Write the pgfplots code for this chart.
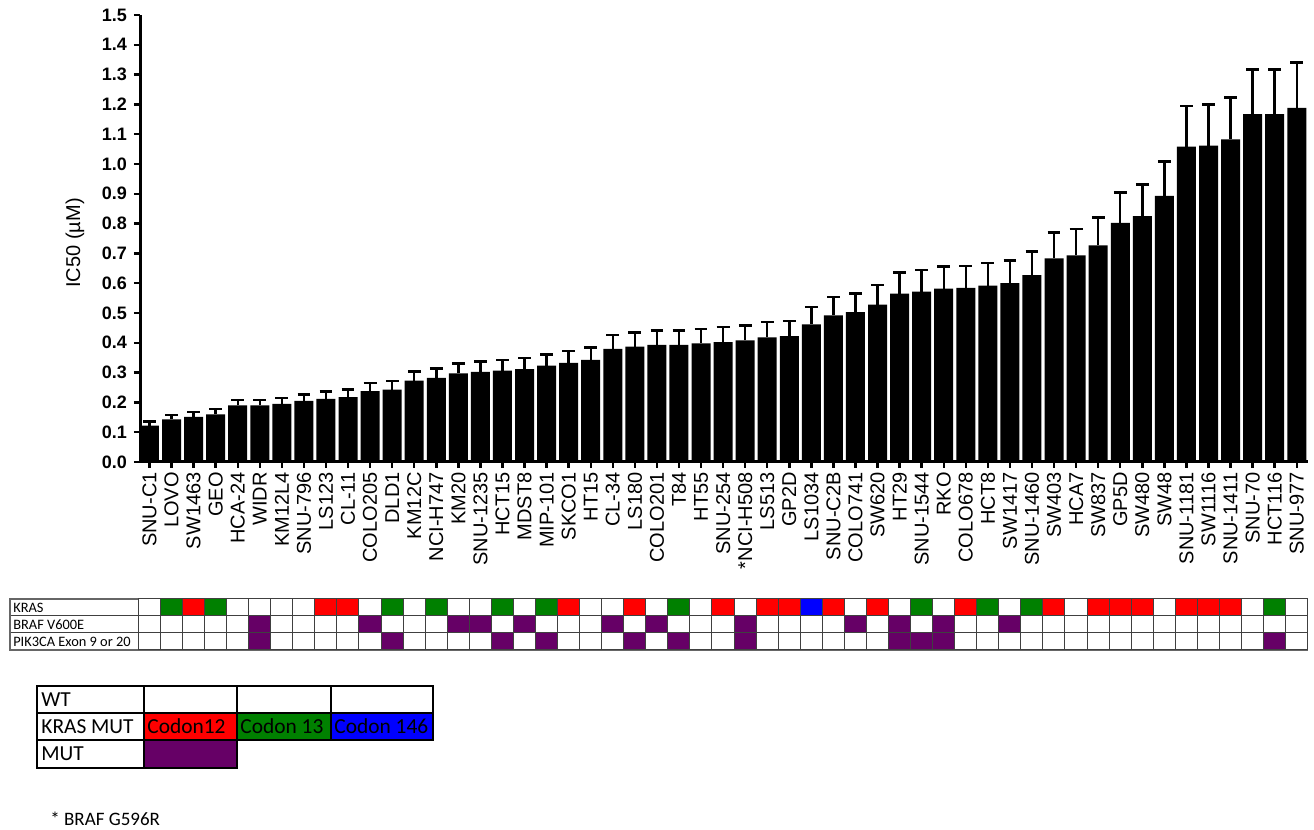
\documentclass[border=0pt]{standalone}
\usepackage{pgfplots}
\pgfplotsset{compat=1.18}
\usepackage{pgfplotstable}
\usepackage{fontspec}
\setmainfont{Liberation Sans}
\newfontfamily\carlito{Carlito}
\definecolor{kred}{RGB}{255,0,0}
\definecolor{kgreen}{RGB}{0,128,0}
\definecolor{kblue}{RGB}{0,0,255}
\definecolor{mpurple}{RGB}{102,0,102}
\pgfdeclareplotmark{cell}{\pgfpathrectangle{\pgfpoint{-5.515pt}{-4.25pt}}{\pgfpoint{11.03pt}{8.5pt}}\pgfusepathqfillstroke}

\pgfplotstableread{
i v e
0 0.122 0.014
1 0.143 0.015
2 0.151 0.016
3 0.160 0.017
4 0.190 0.018
5 0.190 0.018
6 0.195 0.020
7 0.205 0.022
8 0.212 0.024
9 0.218 0.025
10 0.238 0.027
11 0.243 0.028
12 0.273 0.030
13 0.282 0.032
14 0.297 0.034
15 0.302 0.035
16 0.307 0.036
17 0.312 0.036
18 0.323 0.038
19 0.333 0.040
20 0.343 0.041
21 0.380 0.046
22 0.387 0.047
23 0.393 0.048
24 0.393 0.048
25 0.398 0.049
26 0.402 0.050
27 0.408 0.050
28 0.418 0.052
29 0.422 0.052
30 0.462 0.058
31 0.492 0.061
32 0.503 0.063
33 0.528 0.066
34 0.565 0.071
35 0.572 0.072
36 0.582 0.074
37 0.584 0.074
38 0.592 0.075
39 0.600 0.076
40 0.627 0.080
41 0.683 0.087
42 0.693 0.089
43 0.727 0.093
44 0.802 0.102
45 0.825 0.106
46 0.893 0.115
47 1.058 0.136
48 1.062 0.137
49 1.083 0.140
50 1.167 0.150
51 1.167 0.150
52 1.188 0.152
}\ictab

\pgfplotstableread{
i k b p
0 0 0 0
1 2 0 0
2 1 0 0
3 2 0 0
4 0 0 0
5 0 4 4
6 0 0 0
7 0 0 0
8 1 0 0
9 1 0 0
10 0 4 0
11 2 0 4
12 0 0 0
13 2 0 0
14 0 4 0
15 0 4 0
16 2 0 4
17 0 4 0
18 2 0 4
19 1 0 0
20 0 0 0
21 0 4 0
22 1 0 4
23 0 4 0
24 2 0 4
25 0 0 0
26 1 0 0
27 0 4 4
28 1 0 0
29 1 0 0
30 3 0 0
31 1 0 0
32 0 4 0
33 1 0 0
34 0 4 4
35 2 0 4
36 0 4 4
37 1 0 0
38 2 0 0
39 0 4 0
40 2 0 0
41 1 0 0
42 0 0 0
43 1 0 0
44 1 0 0
45 1 0 0
46 0 0 0
47 1 0 0
48 1 0 0
49 1 0 0
50 0 0 0
51 2 0 4
52 0 0 0
}\muttab

\begin{document}
\begin{tikzpicture}
\useasboundingbox (0,0) rectangle (657pt,415pt);
\begin{axis}[
  at={(70pt,184pt)}, anchor=south west, scale only axis,
  width=584pt, height=223.5pt,
  xmin=-0.43, xmax=52.51, ymin=0, ymax=1.5,
  axis x line*=bottom, axis y line*=left,
  axis line style={line width=1.5pt},
  ybar, bar width=9.5pt,
  xtick={0,...,52},
  xticklabels={SNU-C1,LOVO,SW1463,GEO,HCA-24,WIDR,KM12L4,SNU-796,LS123,CL-11,COLO205,DLD1,KM12C,NCI-H747,KM20,SNU-1235,HCT15,MDST8,MIP-101,SKCO1,HT15,CL-34,LS180,COLO201,T84,HT55,SNU-254,*NCI-H508,LS513,GP2D,LS1034,SNU-C2B,COLO741,SW620,HT29,SNU-1544,RKO,COLO678,HCT8,SW1417,SNU-1460,SW403,HCA7,SW837,GP5D,SW480,SW48,SNU-1181,SW1116,SNU-1411,SNU-70,HCT116,SNU-977},
  xticklabel style={rotate=90, anchor=east, font=\fontsize{10}{10}\selectfont, inner sep=2pt},
  ytick={0,0.1,0.2,0.3,0.4,0.5,0.6,0.7,0.8,0.9,1.0,1.1,1.2,1.3,1.4,1.5},
  /pgf/number format/assume math mode=true,
  yticklabel style={font=\bfseries\fontsize{9}{9}\selectfont, /pgf/number format/fixed, /pgf/number format/fixed zerofill, /pgf/number format/precision=1},
  tick align=outside, major tick length=3pt,
  tick style={line width=1.2pt, black},
  ylabel={IC50 (µM)},
  ylabel style={font=\fontsize{10}{10}\selectfont, at={(axis description cs:-0.0556,0.49)}, anchor=center},
  clip=false,
]
\addplot[fill=black, draw=none,
  error bars/.cd, y dir=plus, y explicit,
  error bar style={line width=1.2pt, black},
  error mark options={rotate=90, mark size=3.2pt, line width=1.2pt, black}]
  table[x=i, y=v, y error=e] {\ictab};
\end{axis}

\begin{axis}[
  at={(5pt,90pt)}, anchor=south west, scale only axis,
  width=648.8pt, height=25.5pt,
  xmin=-6.32, xmax=52.5, ymin=-0.5, ymax=2.5,
  xtick={-0.5}, ytick={0.5,1.5},
  xticklabel={\relax}, yticklabel={\relax},
  major tick length=0pt,
  grid=major, major grid style={black!75, line width=0.5pt},
  axis line style={black!60, line width=0.8pt},
  clip=false,
  scatter/classes={0={fill=white,draw=black!75},1={fill=kred,draw=black!75},2={fill=kgreen,draw=black!75},3={fill=kblue,draw=black!75},4={fill=mpurple,draw=black!75}},
]
\addplot[scatter, only marks, scatter src=explicit symbolic, mark=cell, mark options={line width=0.5pt}] table[x=i, y expr=2, meta=k] {\muttab};
\addplot[scatter, only marks, scatter src=explicit symbolic, mark=cell, mark options={line width=0.5pt}] table[x=i, y expr=1, meta=b] {\muttab};
\addplot[scatter, only marks, scatter src=explicit symbolic, mark=cell, mark options={line width=0.5pt}] table[x=i, y expr=0, meta=p] {\muttab};
\node[anchor=west, inner sep=1pt, font=\carlito\fontsize{7.2}{8}\selectfont] at (axis cs:-6.28,2) {KRAS};
\node[anchor=west, inner sep=1pt, font=\carlito\fontsize{7.2}{8}\selectfont] at (axis cs:-6.28,1) {BRAF V600E};
\node[anchor=west, inner sep=1pt, font=\carlito\fontsize{7.2}{8}\selectfont] at (axis cs:-6.28,0) {PIK3CA Exon 9 or 20};
\end{axis}

% legend table
\fill[kred] (72pt,45pt) rectangle (118.5pt,58.5pt);
\fill[kgreen] (118.5pt,45pt) rectangle (165.5pt,58.5pt);
\fill[kblue] (165.5pt,45pt) rectangle (216.5pt,58.5pt);
\fill[mpurple] (72pt,31pt) rectangle (118.5pt,45pt);
\begin{scope}[line width=0.8pt, draw=black]
\draw (18.5pt,31pt) rectangle (118.5pt,72pt);
\draw (118.5pt,45pt) rectangle (216.5pt,72pt);
\draw (18.5pt,58.5pt) -- (216.5pt,58.5pt);
\draw (18.5pt,45pt) -- (118.5pt,45pt);
\draw (72pt,31pt) -- (72pt,72pt);
\draw (165.5pt,45pt) -- (165.5pt,72pt);
\end{scope}
\begin{scope}[every node/.style={anchor=west, inner sep=0pt, font=\carlito\fontsize{10.7}{12}\selectfont}]
\node at (20.5pt,65.25pt) {WT};
\node at (20.5pt,51.75pt) {KRAS MUT};
\node at (20.5pt,38pt) {MUT};
\node at (73.5pt,51.75pt) {Codon12};
\node at (120pt,51.75pt) {Codon 13};
\node at (167pt,51.75pt) {Codon 146};
\end{scope}
\node[anchor=west, inner sep=0pt, font=\carlito\fontsize{9.5}{11}\selectfont] at (25pt,5.5pt) {* BRAF G596R};
\end{tikzpicture}
\end{document}
